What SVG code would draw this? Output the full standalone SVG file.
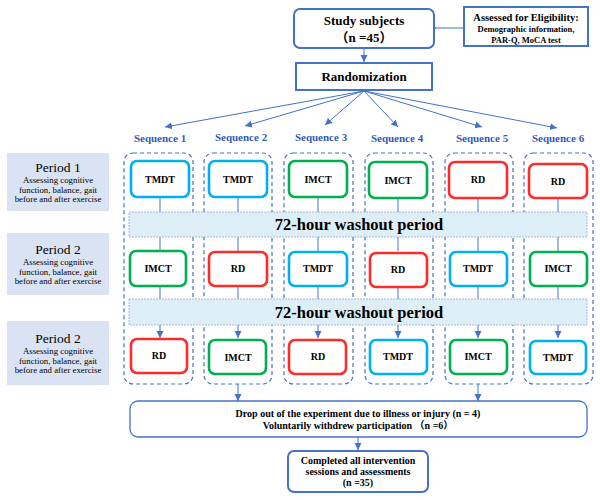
<svg xmlns="http://www.w3.org/2000/svg" width="600" height="500" viewBox="0 0 600 500" font-family="'Liberation Serif', 'Times New Roman', 'Noto Sans CJK SC', serif">
<defs>
<style>
text{font-family:'Liberation Serif','Times New Roman','Noto Sans CJK SC',serif;fill:#000;text-anchor:middle}
.b{font-weight:bold}
.seq{font-weight:bold;font-size:11px;fill:#2F5BB7}
.blue{fill:#fff;stroke:#4472C4;stroke-width:2}
.cont{fill:none;stroke:#4472C4;stroke-width:1.2;stroke-dasharray:4 3}
.node{fill:#fff;stroke-width:2.6}
.c{stroke:#00B0F0}
.g{stroke:#00B050}
.r{stroke:#FF2A2A}
.nt{font-weight:bold;font-size:10px}
.band{fill:#DEEEF6;stroke:#8FAADC;stroke-width:0.8;stroke-dasharray:2 1}
.bt{font-weight:bold;font-size:16.5px}
.per{fill:#DAE3F3}
.pt{font-size:13.5px}
.ps{font-size:8.8px}
.ln{stroke:#4472C4;stroke-width:1;fill:none}
.ar{stroke:#4472C4;stroke-width:1;fill:none;marker-end:url(#ah)}
</style>
<marker id="ah" markerWidth="8" markerHeight="8" refX="7" refY="4" orient="auto" markerUnits="userSpaceOnUse">
<path d="M0,0.5 L7,4 L0,7.5 Z" fill="#4472C4"/>
</marker>
<marker id="oh" markerWidth="10" markerHeight="10" refX="1" refY="5" orient="auto" markerUnits="userSpaceOnUse">
<path d="M9,1 L1,5 L9,9" fill="none" stroke="#4472C4" stroke-width="1"/>
</marker>
</defs>

<g id="connectors">
<line class="ln" x1="464" y1="28" x2="436" y2="28" marker-end="url(#oh)"/>
<line class="ar" x1="364" y1="49" x2="364" y2="62"/>
<line class="ar" x1="364" y1="91" x2="165" y2="127"/>
<line class="ar" x1="364" y1="91" x2="245" y2="126"/>
<line class="ar" x1="364" y1="91" x2="325" y2="125"/>
<line class="ar" x1="364" y1="91" x2="398" y2="127"/>
<line class="ar" x1="364" y1="91" x2="482" y2="127"/>
<line class="ar" x1="364" y1="91" x2="557" y2="128"/>
<g>
<line class="ln" x1="160" y1="197" x2="160" y2="212"/><line class="ln" x1="160" y1="237" x2="160" y2="251"/><line class="ln" x1="160" y1="286" x2="160" y2="299"/><line class="ar" x1="160" y1="325" x2="160" y2="338"/>
<line class="ln" x1="238" y1="197" x2="238" y2="212"/><line class="ln" x1="238" y1="237" x2="238" y2="251"/><line class="ln" x1="238" y1="286" x2="238" y2="299"/><line class="ar" x1="238" y1="325" x2="238" y2="338"/>
<line class="ln" x1="318" y1="197" x2="318" y2="212"/><line class="ln" x1="318" y1="237" x2="318" y2="251"/><line class="ln" x1="318" y1="286" x2="318" y2="299"/><line class="ar" x1="318" y1="325" x2="318" y2="338"/>
<line class="ln" x1="398" y1="197" x2="398" y2="212"/><line class="ln" x1="398" y1="237" x2="398" y2="251"/><line class="ln" x1="398" y1="286" x2="398" y2="299"/><line class="ar" x1="398" y1="325" x2="398" y2="338"/>
<line class="ln" x1="478" y1="197" x2="478" y2="212"/><line class="ln" x1="478" y1="237" x2="478" y2="251"/><line class="ln" x1="478" y1="286" x2="478" y2="299"/><line class="ar" x1="478" y1="325" x2="478" y2="338"/>
<line class="ln" x1="558" y1="197" x2="558" y2="212"/><line class="ln" x1="558" y1="237" x2="558" y2="251"/><line class="ln" x1="558" y1="286" x2="558" y2="299"/><line class="ar" x1="558" y1="325" x2="558" y2="338"/>
</g>
<line class="ar" x1="238" y1="384" x2="238" y2="401"/>
<line class="ar" x1="478" y1="384" x2="478" y2="401"/>
<line class="ar" x1="358" y1="437" x2="358" y2="450"/>
</g>

<g id="study-subjects">
<rect class="blue" x="294" y="9" width="140" height="39" rx="6"/>
<text class="b" x="364" y="25" font-size="13">Study subjects</text>
<text class="b" x="364" y="42" font-size="13">（n =45）</text>
</g>
<g id="eligibility">
<rect class="blue" x="464" y="7" width="124" height="39" stroke-width="2.5"/>
<text class="b" x="526" y="21" font-size="10.5">Assessed for Eligibility:</text>
<text class="b" x="526" y="32" font-size="8.5">Demographic information,</text>
<text class="b" x="526" y="43" font-size="8.5">PAR-Q, MoCA test</text>
</g>
<g id="randomization">
<rect class="blue" x="296" y="63" width="136" height="27"/>
<text class="b" x="364" y="81" font-size="13">Randomization</text>
</g>

<g id="seq-labels">
<text class="seq" x="160" y="142">Sequence 1</text>
<text class="seq" x="241" y="141">Sequence 2</text>
<text class="seq" x="321" y="141">Sequence 3</text>
<text class="seq" x="397" y="142">Sequence 4</text>
<text class="seq" x="482" y="142">Sequence 5</text>
<text class="seq" x="558" y="142">Sequence 6</text>
</g>

<g id="containers">
<rect class="cont" x="124" y="153" width="69" height="231" rx="9"/>
<rect class="cont" x="204" y="153" width="68" height="231" rx="9"/>
<rect class="cont" x="284" y="153" width="69" height="231" rx="9"/>
<rect class="cont" x="365" y="153" width="68" height="231" rx="9"/>
<rect class="cont" x="445" y="153" width="68" height="231" rx="9"/>
<rect class="cont" x="524" y="153" width="69" height="231" rx="9"/>
</g>

<g id="periods">
<g id="period1"><rect class="per" x="7" y="153" width="102" height="58"/>
<text class="pt" x="58" y="172">Period 1</text>
<text class="ps" x="58" y="183">Assessing cognitive</text>
<text class="ps" x="58" y="192.5">function, balance, gait</text>
<text class="ps" x="58" y="202">before and after exercise</text></g>
<g id="period2"><rect class="per" x="7" y="233" width="102" height="62"/>
<text class="pt" x="58" y="254">Period 2</text>
<text class="ps" x="58" y="265">Assessing cognitive</text>
<text class="ps" x="58" y="274.5">function, balance, gait</text>
<text class="ps" x="58" y="284">before and after exercise</text></g>
<g id="period3"><rect class="per" x="7" y="321" width="102" height="64"/>
<text class="pt" x="58" y="343">Period 2</text>
<text class="ps" x="58" y="354">Assessing cognitive</text>
<text class="ps" x="58" y="363.5">function, balance, gait</text>
<text class="ps" x="58" y="373">before and after exercise</text></g>
</g>

<g id="washout1"><rect class="band" x="129" y="212" width="458" height="25"/>
<text class="bt" x="359" y="230">72-hour washout period</text></g>
<g id="washout2"><rect class="band" x="129" y="299" width="458" height="26"/>
<text class="bt" x="359" y="318">72-hour washout period</text></g>

<g id="row1">
<g id="s1p1"><rect class="node c" x="131" y="161" width="58" height="36" rx="6"/><text class="nt" x="160" y="183">TMDT</text></g>
<g id="s2p1"><rect class="node c" x="209" y="161" width="58" height="36" rx="6"/><text class="nt" x="238" y="183">TMDT</text></g>
<g id="s3p1"><rect class="node g" x="289" y="161" width="58" height="36" rx="6"/><text class="nt" x="318" y="183">IMCT</text></g>
<g id="s4p1"><rect class="node g" x="369" y="162" width="58" height="36" rx="6"/><text class="nt" x="398" y="184">IMCT</text></g>
<g id="s5p1"><rect class="node r" x="449" y="162" width="58" height="36" rx="6"/><text class="nt" x="478" y="183">RD</text></g>
<g id="s6p1"><rect class="node r" x="529" y="164" width="58" height="34" rx="6"/><text class="nt" x="558" y="185">RD</text></g>
</g>
<g id="row2">
<g id="s1p2"><rect class="node g" x="130" y="251" width="56" height="35" rx="6"/><text class="nt" x="158" y="272">IMCT</text></g>
<g id="s2p2"><rect class="node r" x="209" y="252" width="58" height="34" rx="6"/><text class="nt" x="238" y="272">RD</text></g>
<g id="s3p2"><rect class="node c" x="289" y="252" width="58" height="34" rx="6"/><text class="nt" x="318" y="272">TMDT</text></g>
<g id="s4p2"><rect class="node r" x="370" y="253" width="57" height="34" rx="6"/><text class="nt" x="398" y="273">RD</text></g>
<g id="s5p2"><rect class="node c" x="450" y="252" width="57" height="34" rx="6"/><text class="nt" x="478" y="272">TMDT</text></g>
<g id="s6p2"><rect class="node g" x="530" y="252" width="57" height="34" rx="6"/><text class="nt" x="558" y="272">IMCT</text></g>
</g>
<g id="row3">
<g id="s1p3"><rect class="node r" x="131" y="339" width="56" height="34" rx="6"/><text class="nt" x="159" y="359">RD</text></g>
<g id="s2p3"><rect class="node g" x="209" y="340" width="57" height="34" rx="6"/><text class="nt" x="238" y="361">IMCT</text></g>
<g id="s3p3"><rect class="node r" x="289" y="340" width="57" height="34" rx="6"/><text class="nt" x="318" y="360">RD</text></g>
<g id="s4p3"><rect class="node c" x="370" y="340" width="57" height="34" rx="6"/><text class="nt" x="398" y="360">TMDT</text></g>
<g id="s5p3"><rect class="node g" x="450" y="340" width="57" height="34" rx="6"/><text class="nt" x="478" y="360">IMCT</text></g>
<g id="s6p3"><rect class="node c" x="530" y="341" width="56" height="33" rx="6"/><text class="nt" x="558" y="361">TMDT</text></g>
</g>

<g id="dropout">
<rect x="130" y="401" width="457" height="36" rx="8" fill="#fff" stroke="#4472C4" stroke-width="1.3"/>
<text class="b" x="358" y="417" font-size="10">Drop out of the experiment due to illness or injury (n = 4)</text>
<text class="b" x="358" y="429" font-size="10">Voluntarily withdrew participation （n =6）</text>
</g>
<g id="completed">
<rect class="blue" x="288" y="451" width="140" height="41" rx="6"/>
<text class="b" x="358" y="464" font-size="10">Completed all intervention</text>
<text class="b" x="358" y="475" font-size="10">sessions and assessments</text>
<text class="b" x="358" y="486" font-size="10">(n =35)</text>
</g>
</svg>
